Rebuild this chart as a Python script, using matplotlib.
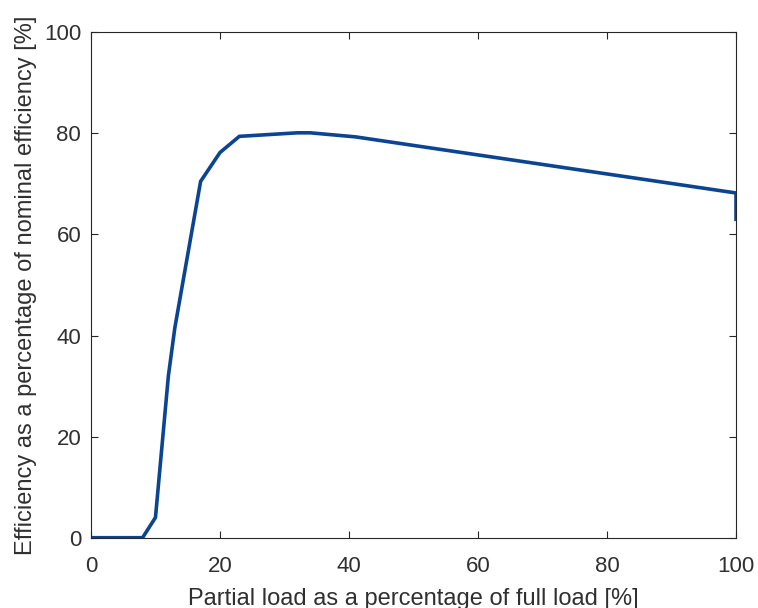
import numpy as np
import matplotlib.pyplot as plt

plt.rcParams['font.family'] = ['Liberation Sans', 'DejaVu Sans']

# partial load [%] vs efficiency relative to nominal [%]
load_pct = [0, 8, 10, 12, 13, 15, 17, 20, 23, 32, 34, 41, 100, 100]
eff_pct = [0, 0, 4, 32, 41.5, 56, 70.5, 76.2, 79.4, 80.1, 80.1, 79.3, 68.2, 63]

x_ticks = [0, 20, 40, 60, 80, 100]
y_ticks = [0, 20, 40, 60, 80, 100]

fig = plt.figure(figsize=(7.58, 6.08), dpi=100)
ax = fig.add_axes([0.12, 0.1156, 0.851, 0.8314])

ax.plot(load_pct, eff_pct, color='#0b4592', linewidth=2.6, solid_joinstyle='miter')

ax.set_xlim(0, 100)
ax.set_ylim(0, 100)
ax.set_xticks(x_ticks)
ax.set_yticks(y_ticks)

txt = '#303030'
for s in ax.spines.values():
    s.set_color('#262626')
    s.set_linewidth(0.8)
ax.tick_params(direction='in', length=5, width=0.8, colors='#262626',
               labelcolor=txt, labelsize=16, top=True, right=True, pad=7)
ax.tick_params(axis='x', pad=13)

ax.set_xlabel('Partial load as a percentage of full load [%]', fontsize=17, color=txt, labelpad=8)
ax.set_ylabel('Efficiency as a percentage of nominal efficiency [%]', fontsize=17, color=txt, labelpad=5)

fig.savefig('out.png', dpi=100)
